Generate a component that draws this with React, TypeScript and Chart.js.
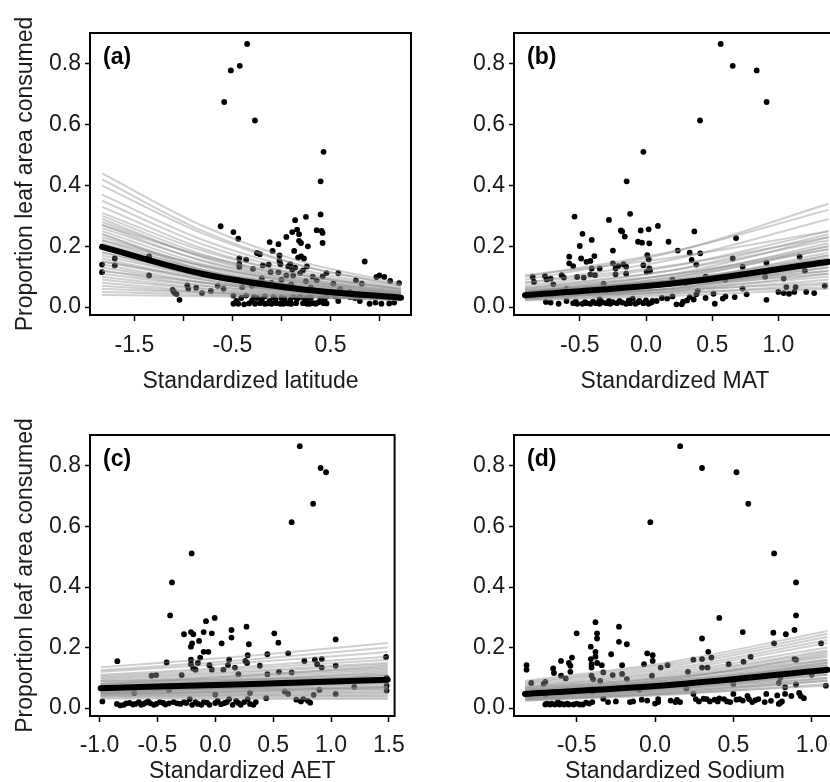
import React, { useEffect, useRef } from 'react';
import { Chart, registerables } from 'chart.js';

Chart.register(...registerables);

const FONT = '"Liberation Sans", Arial, Helvetica, sans-serif';
const Y_TITLE = 'Proportion leaf area consumed';
const yTicks = [0, 0.2, 0.4, 0.6, 0.8];
const yTickLabels = ['0.0', '0.2', '0.4', '0.6', '0.8'];
const Y_MIN = -0.026;
const Y_MAX = 0.902;

// ---------- (a) Standardized latitude ----------
const latTicks = [-1.5, -1, -0.5, 0, 0.5, 1];
const latTickLabels = ['-1.5', '', '-0.5', '', '0.5', ''];
const latPoints: [number, number][] = [
  [-1.83, 0.14], [-1.83, 0.115], [-1.7, 0.16], [-1.7, 0.137], [-1.35, 0.167], [-1.35, 0.104],
  [-1.11, 0.057], [-1.09, 0.047], [-1.07, 0.043], [-1.04, 0.024], [-1.1, 0.052],
  [-0.96, 0.071], [-0.87, 0.064], [-0.81, 0.046], [-0.72, 0.053],
  [-0.62, 0.266], [-0.59, 0.06],
  [-0.49, 0.247], [-0.44, 0.225], [-0.43, 0.16], [-0.36, 0.156], [-0.43, 0.132], [-0.43, 0.142],
  [-0.49, 0.038], [-0.49, 0.011], [-0.44, 0.011], [-0.38, 0.009], [-0.36, 0.038], [-0.28, 0.033],
  [-0.27, 0.011], [-0.22, 0.013], [-0.17, 0.011], [-0.17, 0.035],
  [-0.29, 0.126], [-0.25, 0.178], [-0.22, 0.174], [-0.19, 0.137], [-0.13, 0.14], [-0.12, 0.214],
  [-0.09, 0.185], [-0.03, 0.207], [-0.02, 0.17], [-0.02, 0.152], [-0.01, 0.141], [-0.11, 0.115], [-0.03, 0.115],
  [0.05, 0.231], [0.07, 0.134], [0.09, 0.141], [0.11, 0.247], [0.14, 0.286], [0.16, 0.255], [0.18, 0.24],
  [0.18, 0.218], [0.2, 0.211], [0.13, 0.185], [0.17, 0.163], [0.2, 0.167], [0.23, 0.16], [0.27, 0.2],
  [0.25, 0.297], [0.26, 0.134], [0.22, 0.121], [0.19, 0.112], [0.14, 0.13], [0.11, 0.123], [0.05, 0.104], [0.12, 0.104],
  [-0.08, 0.033], [-0.05, 0.013], [-0.01, 0.011], [0.02, 0.011], [0.05, 0.013], [0.09, 0.024], [0.12, 0.033],
  [0.19, 0.033], [0.22, 0.013], [0.26, 0.011], [0.29, 0.011], [0.33, 0.013], [0.38, 0.016], [0.43, 0.013],
  [0.44, 0.024], [0.0, 0.03], [0.3, 0.03], [-0.12, 0.02],
  [-0.46, 0.02], [-0.41, 0.03], [-0.33, 0.012], [-0.3, 0.022], [-0.25, 0.03], [-0.2, 0.025], [-0.14, 0.012],
  [-0.1, 0.011], [-0.06, 0.025], [0.03, 0.028], [0.07, 0.012], [0.1, 0.011], [0.15, 0.013], [0.16, 0.027],
  [0.24, 0.025], [0.27, 0.03], [0.35, 0.011], [0.4, 0.028], [0.46, 0.012], [0.46, 0.035], [0.55, 0.035],
  [0.7, 0.033], [0.8, 0.02], [1.1, 0.012], [1.15, 0.015],
  [0.36, 0.253], [0.41, 0.251], [0.42, 0.244], [0.42, 0.211], [0.4, 0.305], [0.4, 0.414], [0.43, 0.511],
  [0.46, 0.112], [0.42, 0.101], [0.36, 0.088], [0.58, 0.112], [0.53, 0.077],
  [0.76, 0.088], [0.82, 0.077], [0.85, 0.15],
  [0.97, 0.099], [1.0, 0.104], [1.05, 0.099], [1.11, 0.086], [1.2, 0.079], [1.2, 0.031],
  [0.9, 0.011], [1.02, 0.011], [0.58, 0.02], [0.65, 0.04], [0.75, 0.03], [0.96, 0.015],
  [-0.3, 0.07], [-0.1, 0.08], [0.1, 0.075], [0.3, 0.065], [-0.45, 0.09],
  [-0.95, 0.06], [-0.65, 0.07], [-0.4, 0.065], [-0.2, 0.095], [0.0, 0.09], [0.25, 0.085], [0.32, 0.1], [0.6, 0.06], [0.7, 0.05],
  [-0.35, 0.866], [-0.425, 0.794], [-0.516, 0.779], [-0.584, 0.675], [-0.27, 0.614],
];
const latNodes = [-1.83, -0.8, 0.2, 1.22];
const latDraws = [
  [0.44, 0.267, 0.15, 0.077], [0.42, 0.25, 0.138, 0.07], [0.4, 0.242, 0.136, 0.072],
  [0.37, 0.221, 0.124, 0.065], [0.35, 0.206, 0.115, 0.06], [0.33, 0.192, 0.106, 0.055],
  [0.31, 0.185, 0.107, 0.058], [0.3, 0.173, 0.096, 0.05], [0.29, 0.163, 0.088, 0.045],
  [0.28, 0.166, 0.095, 0.052], [0.27, 0.151, 0.082, 0.042], [0.26, 0.153, 0.088, 0.048],
  [0.25, 0.141, 0.077, 0.04], [0.24, 0.132, 0.07, 0.036], [0.23, 0.136, 0.079, 0.044],
  [0.22, 0.122, 0.066, 0.034], [0.21, 0.122, 0.069, 0.038], [0.2, 0.111, 0.061, 0.032],
  [0.19, 0.11, 0.063, 0.035], [0.18, 0.101, 0.056, 0.03], [0.17, 0.1, 0.058, 0.033],
  [0.16, 0.091, 0.051, 0.028], [0.15, 0.09, 0.053, 0.031], [0.14, 0.082, 0.048, 0.027],
  [0.13, 0.08, 0.05, 0.03], [0.12, 0.071, 0.043, 0.025], [0.11, 0.07, 0.045, 0.028],
  [0.1, 0.062, 0.039, 0.024], [0.09, 0.059, 0.04, 0.026], [0.08, 0.052, 0.034, 0.022],
  [0.07, 0.049, 0.035, 0.025], [0.06, 0.047, 0.038, 0.03], [0.05, 0.041, 0.033, 0.027],
  [0.04, 0.036, 0.032, 0.028], [0.22, 0.137, 0.084, 0.05], [0.27, 0.169, 0.103, 0.06],
  [0.18, 0.115, 0.073, 0.045], [0.15, 0.097, 0.063, 0.04], [0.12, 0.08, 0.053, 0.035],
  [0.24, 0.122, 0.06, 0.028],
];
const latMean = [0.198, 0.109, 0.059, 0.031];

// ---------- (b) Standardized MAT ----------
const matTicks = [-0.5, 0, 0.5, 1];
const matTickLabels = ['-0.5', '0.0', '0.5', '1.0'];
const matPoints: [number, number][] = [
  [-0.856, 0.099], [-0.846, 0.083], [-0.763, 0.102], [-0.75, 0.091], [-0.72, 0.094], [-0.756, 0.017], [-0.66, 0.011],
  [-0.637, 0.105], [-0.62, 0.097], [-0.58, 0.166], [-0.58, 0.144], [-0.55, 0.135], [-0.54, 0.298], [-0.52, 0.099],
  [-0.5, 0.201], [-0.49, 0.16], [-0.48, 0.241], [-0.47, 0.097],
  [-0.45, 0.149], [-0.42, 0.152], [-0.41, 0.221], [-0.39, 0.168], [-0.41, 0.127], [-0.35, 0.127], [-0.42, 0.108], [-0.385, 0.105],
  [-0.28, 0.287], [-0.25, 0.186], [-0.25, 0.144], [-0.23, 0.127], [-0.21, 0.135], [-0.19, 0.252], [-0.18, 0.249],
  [-0.16, 0.232], [-0.17, 0.141], [-0.15, 0.133], [-0.15, 0.11], [-0.23, 0.108],
  [-0.12, 0.307], [-0.04, 0.252], [-0.06, 0.215], [-0.03, 0.212], [0.02, 0.256], [0.025, 0.21], [0.01, 0.171],
  [0.02, 0.157], [-0.02, 0.138], [0.025, 0.127], [0.005, 0.116], [0.03, 0.119],
  [0.09, 0.267], [0.17, 0.215], [0.24, 0.186], [0.33, 0.179], [0.365, 0.249], [0.345, 0.155], [0.38, 0.14], [0.41, 0.177],
  [0.655, 0.16], [0.68, 0.227], [0.73, 0.061], [0.76, 0.042], [0.67, 0.033], [0.91, 0.024],
  [1.04, 0.046], [1.06, 0.066], [1.08, 0.044], [1.12, 0.05], [1.13, 0.066], [1.21, 0.05], [1.27, 0.046], [1.35, 0.07],
  [0.58, 0.028], [0.51, 0.044], [0.52, 0.011], [0.38, 0.042], [0.39, 0.053],
  [-0.55, 0.013], [-0.52, 0.011], [-0.48, 0.011], [-0.45, 0.013], [-0.42, 0.011], [-0.38, 0.013], [-0.35, 0.011],
  [-0.3, 0.013], [-0.27, 0.011], [-0.22, 0.013], [-0.2, 0.02], [-0.15, 0.011], [-0.12, 0.013], [-0.08, 0.011],
  [-0.05, 0.02], [-0.02, 0.013], [0.02, 0.011], [0.05, 0.02], [-0.35, 0.025], [-0.1, 0.028], [0.16, 0.028],
  [0.23, 0.009], [0.27, 0.009], [0.31, 0.022], [0.33, 0.033],
  [-0.72, 0.015], [-0.6, 0.02], [-0.53, 0.018], [-0.46, 0.016], [-0.4, 0.018], [-0.33, 0.016], [-0.28, 0.02],
  [-0.25, 0.016], [-0.18, 0.015], [-0.13, 0.022], [-0.06, 0.016], [0.0, 0.022], [0.04, 0.015], [0.08, 0.02],
  [0.12, 0.03], [0.2, 0.035], [0.28, 0.018], [0.36, 0.025], [0.45, 0.03], [0.6, 0.035], [1.0, 0.05],
  [-0.7, 0.075], [-0.32, 0.077], [0.73, 0.133], [0.91, 0.146], [1.16, 0.166], [1.04, 0.094], [0.2, 0.09], [0.45, 0.1],
  [-0.6, 0.06], [-0.3, 0.055], [0.0, 0.07], [0.3, 0.08], [0.6, 0.09], [0.9, 0.1], [1.2, 0.12],
  [0.564, 0.866], [0.655, 0.794], [0.836, 0.779], [0.911, 0.675], [0.408, 0.614], [-0.02, 0.511], [-0.146, 0.414],
];
const matNodes = [-0.914, 0.23, 1.378];
const matDraws = [
  [0.09, 0.184, 0.34], [0.1, 0.186, 0.32], [0.08, 0.159, 0.29], [0.105, 0.165, 0.25], [0.07, 0.137, 0.25],
  [0.06, 0.124, 0.24], [0.08, 0.139, 0.23], [0.05, 0.111, 0.23], [0.065, 0.123, 0.22], [0.045, 0.101, 0.21],
  [0.055, 0.108, 0.2], [0.04, 0.093, 0.2], [0.05, 0.1, 0.19], [0.035, 0.082, 0.18], [0.045, 0.089, 0.17],
  [0.03, 0.074, 0.17], [0.04, 0.082, 0.16], [0.05, 0.088, 0.15], [0.035, 0.074, 0.15], [0.028, 0.064, 0.14],
  [0.04, 0.073, 0.13], [0.03, 0.061, 0.12], [0.045, 0.071, 0.11], [0.025, 0.053, 0.11], [0.035, 0.06, 0.1],
  [0.03, 0.052, 0.09], [0.04, 0.057, 0.08], [0.025, 0.044, 0.075], [0.035, 0.048, 0.065], [0.022, 0.037, 0.06],
  [0.06, 0.109, 0.19], [0.05, 0.091, 0.16], [0.04, 0.076, 0.14], [0.03, 0.064, 0.13], [0.055, 0.089, 0.14],
  [0.045, 0.074, 0.12],
];
const matMean = [0.039, 0.079, 0.149];

// ---------- (c) Standardized AET ----------
const aetTicks = [-1, -0.5, 0, 0.5, 1, 1.5];
const aetTickLabels = ['-1.0', '-0.5', '0.0', '0.5', '1.0', '1.5'];
const aetPoints: [number, number][] = [
  [-0.975, 0.022], [-0.846, 0.155],
  [-0.82, 0.009], [-0.79, 0.011], [-0.74, 0.017], [-0.69, 0.014], [-0.62, 0.014], [-0.56, 0.016], [-0.51, 0.014],
  [-0.45, 0.017], [-0.4, 0.016], [-0.66, 0.02], [-0.58, 0.022],
  [-0.85, 0.014], [-0.77, 0.016], [-0.71, 0.012], [-0.64, 0.011], [-0.6, 0.018], [-0.53, 0.011], [-0.48, 0.02],
  [-0.43, 0.012], [-0.33, 0.016], [-0.27, 0.02], [-0.17, 0.02], [-0.12, 0.011], [-0.07, 0.018], [0.02, 0.024],
  [0.08, 0.017], [0.18, 0.024], [0.22, 0.011], [0.35, 0.02], [0.76, 0.03], [0.82, 0.018],
  [-0.55, 0.107], [-0.51, 0.109], [-0.29, 0.109], [-0.42, 0.151],
  [-0.39, 0.306], [-0.27, 0.244], [-0.21, 0.251], [-0.19, 0.244], [-0.21, 0.203], [-0.2, 0.214], [-0.14, 0.222],
  [-0.13, 0.167], [-0.1, 0.186], [-0.1, 0.251], [-0.08, 0.287], [-0.06, 0.186], [-0.05, 0.142], [-0.03, 0.247],
  [-0.005, 0.298], [0.055, 0.214], [-0.03, 0.127], [-0.21, 0.16], [-0.21, 0.145], [-0.19, 0.131], [-0.15, 0.149], [-0.17, 0.127],
  [0.07, 0.127], [0.11, 0.142], [0.12, 0.16], [0.14, 0.258], [0.14, 0.233], [0.17, 0.134], [0.27, 0.269], [0.29, 0.211],
  [0.28, 0.175], [0.26, 0.156], [0.275, 0.149], [0.385, 0.14], [0.45, 0.178], [0.51, 0.247], [0.545, 0.216], [0.63, 0.181],
  [0.77, 0.156], [0.86, 0.16], [0.88, 0.145], [0.92, 0.162], [0.92, 0.134], [1.04, 0.227], [1.04, 0.14], [1.475, 0.169],
  [0.66, 0.118], [0.55, 0.12], [0.45, 0.112], [0.2, 0.112],
  [-0.7, 0.05], [-0.4, 0.06], [0.0, 0.045], [0.3, 0.05], [0.6, 0.055], [0.9, 0.06], [1.2, 0.07], [1.48, 0.1],
  [-0.36, 0.02], [-0.3, 0.014], [-0.25, 0.017], [-0.2, 0.011], [-0.15, 0.014], [-0.1, 0.02], [-0.05, 0.011], [0.0, 0.017],
  [0.05, 0.013], [0.1, 0.02], [0.15, 0.011], [0.2, 0.017], [0.25, 0.02], [0.3, 0.014], [0.33, 0.011], [-0.22, 0.03],
  [0.12, 0.03], [0.28, 0.03],
  [0.44, 0.033], [0.7, 0.028], [0.74, 0.022], [0.8, 0.024], [0.85, 0.044], [0.63, 0.047], [1.04, 0.047], [1.48, 0.058], [1.48, 0.074],
  [0.73, 0.865], [0.91, 0.793], [0.957, 0.779], [0.845, 0.675], [0.66, 0.614], [-0.204, 0.511], [-0.374, 0.415],
];
const aetNodes = [-0.99, 0.25, 1.49];
const aetDraws = [
  [0.135, 0.171, 0.215], [0.125, 0.159, 0.2], [0.12, 0.15, 0.185], [0.11, 0.137, 0.17], [0.105, 0.13, 0.16],
  [0.1, 0.123, 0.15], [0.095, 0.118, 0.145], [0.09, 0.111, 0.135], [0.085, 0.106, 0.13], [0.08, 0.1, 0.125],
  [0.078, 0.095, 0.115], [0.075, 0.091, 0.11], [0.072, 0.087, 0.105], [0.07, 0.084, 0.1], [0.068, 0.081, 0.095],
  [0.065, 0.077, 0.09], [0.062, 0.073, 0.085], [0.06, 0.07, 0.08], [0.058, 0.066, 0.075], [0.055, 0.062, 0.07],
  [0.052, 0.058, 0.065], [0.05, 0.055, 0.06], [0.048, 0.051, 0.055], [0.045, 0.047, 0.05], [0.042, 0.043, 0.045],
  [0.04, 0.04, 0.04], [0.036, 0.035, 0.035], [0.032, 0.031, 0.03], [0.09, 0.095, 0.1], [0.08, 0.106, 0.14],
  [0.07, 0.092, 0.12], [0.06, 0.082, 0.11], [0.05, 0.068, 0.09], [0.065, 0.065, 0.065], [0.055, 0.069, 0.085],
  [0.045, 0.056, 0.07],
];
const aetMean = [0.066, 0.079, 0.094];

// ---------- (d) Standardized Sodium ----------
const naTicks = [-0.5, 0, 0.5, 1];
const naTickLabels = ['-0.5', '0.0', '0.5', '1.0'];
const naPoints: [number, number][] = [
  [-0.82, 0.142], [-0.82, 0.127], [-0.79, 0.083], [-0.71, 0.08], [-0.7, 0.087], [-0.65, 0.131], [-0.645, 0.116],
  [-0.6, 0.156], [-0.6, 0.107], [-0.57, 0.098], [-0.55, 0.149], [-0.54, 0.14], [-0.53, 0.167], [-0.5, 0.247], [-0.54, 0.12],
  [-0.41, 0.203], [-0.41, 0.162], [-0.405, 0.145], [-0.405, 0.134], [-0.38, 0.284], [-0.37, 0.247], [-0.37, 0.23],
  [-0.38, 0.186], [-0.38, 0.17], [-0.37, 0.149], [-0.34, 0.142], [-0.33, 0.118], [-0.405, 0.107], [-0.395, 0.095], [-0.35, 0.09],
  [-0.28, 0.178], [-0.27, 0.109], [-0.23, 0.269], [-0.23, 0.219], [-0.21, 0.142], [-0.18, 0.211], [-0.21, 0.113], [-0.18, 0.096],
  [-0.07, 0.145], [-0.05, 0.181], [-0.015, 0.175], [-0.015, 0.156], [-0.02, 0.107], [0.036, 0.134], [0.08, 0.142],
  [0.21, 0.12], [0.245, 0.16], [0.3, 0.23], [0.3, 0.162], [0.3, 0.134], [0.34, 0.186], [0.36, 0.167], [0.335, 0.134],
  [0.41, 0.298], [0.47, 0.145], [0.56, 0.251], [0.565, 0.153], [0.61, 0.17],
  [0.755, 0.249], [0.76, 0.214], [0.835, 0.244], [0.89, 0.258], [0.9, 0.306], [0.89, 0.162], [1.06, 0.214], [1.09, 0.074],
  [-0.7, 0.012], [-0.67, 0.012], [-0.64, 0.012], [-0.61, 0.012], [-0.58, 0.012], [-0.55, 0.012], [-0.52, 0.012],
  [-0.48, 0.012], [-0.44, 0.018], [-0.42, 0.015], [-0.62, 0.02],
  [-0.69, 0.015], [-0.66, 0.015], [-0.6, 0.015], [-0.56, 0.015], [-0.5, 0.015], [-0.46, 0.012], [-0.4, 0.02],
  [-0.3, 0.02], [-0.16, 0.02], [0.0, 0.015], [0.1, 0.025], [0.16, 0.02], [0.26, 0.03], [0.33, 0.03], [0.38, 0.028],
  [0.44, 0.03], [0.48, 0.02], [0.54, 0.03], [0.6, 0.03], [0.66, 0.03], [0.74, 0.024], [0.87, 0.04], [0.8, 0.018],
  [-0.33, 0.031], [-0.25, 0.022], [-0.14, 0.022], [-0.085, 0.028], [-0.05, 0.025], [0.02, 0.02], [0.02, 0.03],
  [0.13, 0.02], [0.14, 0.027], [0.245, 0.047], [0.28, 0.022], [0.31, 0.031], [0.35, 0.022], [0.4, 0.022], [0.41, 0.032],
  [0.46, 0.022], [0.5, 0.047], [0.52, 0.028], [0.56, 0.025], [0.59, 0.04], [0.62, 0.02], [0.64, 0.026], [0.7, 0.02],
  [0.71, 0.047], [0.78, 0.042], [0.79, 0.014], [0.81, 0.022], [0.83, 0.047], [0.92, 0.05], [0.95, 0.033], [0.93, 0.04],
  [0.79, 0.083], [0.83, 0.069], [0.9, 0.078], [0.9, 0.16],
  [-0.7, 0.045], [-0.4, 0.055], [-0.1, 0.06], [0.2, 0.065], [0.5, 0.08], [0.8, 0.1], [1.0, 0.11],
  [0.16, 0.865], [0.3, 0.793], [0.52, 0.779], [0.595, 0.675], [-0.03, 0.614], [0.76, 0.511], [0.9, 0.415],
];
const naNodes = [-0.83, 0.13, 1.1];
const naDraws = [
  [0.09, 0.155, 0.255], [0.085, 0.148, 0.245], [0.08, 0.141, 0.235], [0.075, 0.133, 0.225], [0.07, 0.126, 0.215],
  [0.068, 0.119, 0.2], [0.065, 0.113, 0.19], [0.06, 0.107, 0.185], [0.058, 0.103, 0.175], [0.055, 0.099, 0.17],
  [0.052, 0.093, 0.16], [0.05, 0.089, 0.155], [0.048, 0.086, 0.15], [0.045, 0.082, 0.145], [0.043, 0.079, 0.14],
  [0.04, 0.073, 0.13], [0.038, 0.07, 0.125], [0.036, 0.067, 0.12], [0.034, 0.064, 0.115], [0.032, 0.06, 0.11],
  [0.03, 0.055, 0.1], [0.028, 0.052, 0.095], [0.026, 0.049, 0.09], [0.025, 0.045, 0.08], [0.05, 0.078, 0.12],
  [0.06, 0.092, 0.14], [0.045, 0.071, 0.11], [0.04, 0.064, 0.1], [0.055, 0.085, 0.13], [0.065, 0.103, 0.16],
  [0.035, 0.057, 0.09], [0.03, 0.048, 0.075], [0.05, 0.097, 0.18], [0.04, 0.079, 0.15],
];
const naMean = [0.047, 0.078, 0.127];

const framePlugin = {
  id: 'frame',
  afterDatasetsDraw(chart: any, _args: any, opts: any) {
    const { ctx, chartArea: c } = chart;
    ctx.save();
    ctx.strokeStyle = '#000';
    ctx.lineWidth = 2;
    ctx.strokeRect(c.left, c.top, c.right - c.left, c.bottom - c.top);
    ctx.font = `bold 23px ${FONT}`;
    ctx.fillStyle = '#000';
    ctx.textBaseline = 'alphabetic';
    ctx.textAlign = 'left';
    ctx.fillText(opts.label, c.left + 13, c.top + 31);
    ctx.restore();
  },
};

type PanelProps = {
  left: number; top: number; width: number; height: number;
  pad: { top: number; right: number; bottom: number; left: number };
  yAxisWidth: number; xAxisHeight: number;
  xMin: number; xMax: number; xTicks: number[]; xTickLabels: string[];
  xTitle: string; showYTitle: boolean; label: string;
  points: [number, number][]; nodes: number[]; draws: number[][]; mean: number[];
  xLabelPad: number; xTitlePad: number;
};

function Panel(p: PanelProps) {
  const ref = useRef<HTMLCanvasElement>(null);
  useEffect(() => {
    if (!ref.current) return;
    const toXY = (vals: number[]) => vals.map((v, i) => ({ x: p.nodes[i], y: v }));
    const datasets: any[] = [
      {
        type: 'scatter',
        data: p.points.map(([x, y]) => ({ x, y })),
        pointRadius: 2.9,
        pointBackgroundColor: '#000',
        pointBorderWidth: 0,
        order: 3,
      },
      ...p.draws.map((d) => ({
        type: 'line',
        data: toXY(d),
        borderColor: 'rgba(140,140,140,0.42)',
        borderWidth: 2,
        pointRadius: 0,
        cubicInterpolationMode: 'monotone',
        fill: false,
        order: 2,
      })),
      {
        type: 'line',
        data: toXY(p.mean),
        borderColor: '#000',
        borderWidth: 6,
        borderCapStyle: 'round',
        pointRadius: 0,
        cubicInterpolationMode: 'monotone',
        fill: false,
        order: 1,
      },
    ];
    const tickFont = { family: FONT, size: 23 };
    const chart = new Chart(ref.current, {
      type: 'scatter',
      data: { datasets },
      plugins: [framePlugin],
      options: {
        animation: false,
        responsive: false,
        devicePixelRatio: 1,
        events: [],
        layout: { padding: p.pad },
        plugins: {
          legend: { display: false },
          tooltip: { enabled: false },
          frame: { label: p.label },
        } as any,
        scales: {
          x: {
            type: 'linear',
            min: p.xMin,
            max: p.xMax,
            afterBuildTicks: (s: any) => { s.ticks = p.xTicks.map((v) => ({ value: v })); },
            afterFit: (s: any) => { s.height = p.xAxisHeight; },
            ticks: {
              callback: (_v: any, i: number) => p.xTickLabels[i],
              autoSkip: false, maxRotation: 0, minRotation: 0,
              padding: p.xLabelPad, color: '#1a1a1a', font: tickFont,
            },
            grid: { drawOnChartArea: false, drawTicks: true, tickLength: 6, tickColor: '#000', tickWidth: 1.5 },
            border: { display: false },
            title: {
              display: true, text: p.xTitle, color: '#1a1a1a', font: tickFont,
              padding: { top: 0, bottom: p.xTitlePad },
            },
          },
          y: {
            type: 'linear',
            min: Y_MIN,
            max: Y_MAX,
            afterBuildTicks: (s: any) => { s.ticks = yTicks.map((v) => ({ value: v })); },
            afterFit: (s: any) => { s.width = p.yAxisWidth; },
            ticks: {
              callback: (_v: any, i: number) => yTickLabels[i],
              autoSkip: false, padding: 4, color: '#1a1a1a', font: tickFont,
            },
            grid: { drawOnChartArea: false, drawTicks: true, tickLength: 5, tickColor: '#000', tickWidth: 1.5 },
            border: { display: false },
            title: {
              display: p.showYTitle, text: Y_TITLE, color: '#1a1a1a', font: tickFont,
              padding: { top: 12, bottom: 0 },
            },
          },
        },
      } as any,
    });
    return () => chart.destroy();
  }, []);
  return (
    <canvas
      ref={ref}
      width={p.width}
      height={p.height}
      style={{ position: 'absolute', left: p.left, top: p.top, width: p.width, height: p.height }}
    />
  );
}

export default function App() {
  return (
    <div style={{ position: 'fixed', left: 0, top: 0, width: 830, height: 782, overflow: 'hidden', background: '#fff' }}>
      <Panel
        left={0} top={0} width={415} height={400}
        pad={{ top: 33, right: 2, bottom: 0, left: 0 }}
        yAxisWidth={90} xAxisHeight={85}
        xMin={-1.953} xMax={1.322} xTicks={latTicks} xTickLabels={latTickLabels}
        xTitle="Standardized latitude" showYTitle label="(a)"
        points={latPoints} nodes={latNodes} draws={latDraws} mean={latMean}
        xLabelPad={11} xTitlePad={5}
      />
      <Panel
        left={415} top={0} width={430} height={400}
        pad={{ top: 33, right: 9, bottom: 0, left: 0 }}
        yAxisWidth={99} xAxisHeight={85}
        xMin={-0.997} xMax={1.435} xTicks={matTicks} xTickLabels={matTickLabels}
        xTitle="Standardized MAT" showYTitle={false} label="(b)"
        points={matPoints} nodes={matNodes} draws={matDraws} mean={matMean}
        xLabelPad={11} xTitlePad={5}
      />
      <Panel
        left={0} top={391} width={415} height={400}
        pad={{ top: 44, right: 5, bottom: 0, left: 0 }}
        yAxisWidth={90} xAxisHeight={75}
        xMin={-1.082} xMax={1.549} xTicks={aetTicks} xTickLabels={aetTickLabels}
        xTitle="Standardized AET" showYTitle label="(c)"
        points={aetPoints} nodes={aetNodes} draws={aetDraws} mean={aetMean}
        xLabelPad={10} xTitlePad={6}
      />
      <Panel
        left={415} top={391} width={430} height={400}
        pad={{ top: 44, right: 9, bottom: 0, left: 0 }}
        yAxisWidth={99} xAxisHeight={75}
        xMin={-0.9} xMax={1.155} xTicks={naTicks} xTickLabels={naTickLabels}
        xTitle="Standardized Sodium" showYTitle={false} label="(d)"
        points={naPoints} nodes={naNodes} draws={naDraws} mean={naMean}
        xLabelPad={10} xTitlePad={6}
      />
    </div>
  );
}
